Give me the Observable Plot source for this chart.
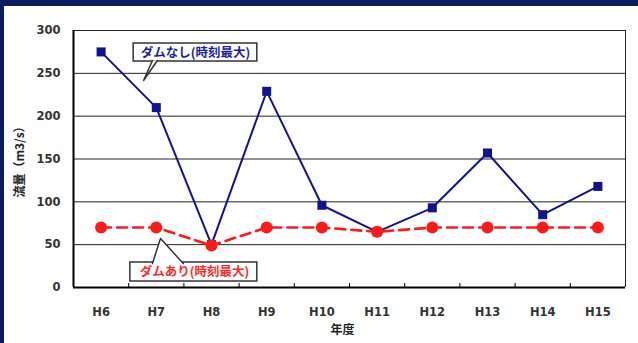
<!DOCTYPE html>
<html><head><meta charset="utf-8">
<script src="https://cdn.jsdelivr.net/npm/d3@7"></script>
<script src="https://cdn.jsdelivr.net/npm/@observablehq/plot@0.6"></script>
<style>
body{margin:0;background:#fff;}
#wrap{position:relative;width:638px;height:343px;overflow:hidden;background:#fff;}
#wrap svg{position:absolute;left:0;top:0;}
.bt{position:absolute;left:0;top:0;width:638px;height:6px;background:#0b1d5e;z-index:2;}
.bl{position:absolute;left:0;top:0;width:4px;height:343px;background:#0b1d5e;z-index:2;}
</style></head><body><div id="wrap"><div class="bt"></div><div class="bl"></div></div>
<script>
const years = ["H6","H7","H8","H9","H10","H11","H12","H13","H14","H15"];
const withoutDam = [275,210,50,229,96,65,93,157,85,118];
const withDam = [70,70,49,70,70,65,70,70,70,70];
const yTicks = [0,50,100,150,200,250,300];
const labelWithout = "ダムなし(時刻最大)";
const labelWith = "ダムあり(時刻最大)";
const yLabel = "流量（m3/s）";
const xLabel = "年度";

const idx = years.map((_, i) => i);
const rowsA = years.map((y, i) => ({i, v: withoutDam[i]}));
const rowsB = years.map((y, i) => ({i, v: withDam[i]}));
const bounds = idx.slice(0, -1).map(i => i + 0.5);

// callout anchors in data units (x = year index, y = flow)
const callouts = [
  {text: labelWithout, color: "#1e1e9a", x1: 0.59, x2: 2.83, y1: 263.8, y2: 284.8, tx: 1.71, ty: 274.3,
   ptr: [{x: 0.93, y: 265}, {x: 0.77, y: 241.6}, {x: 1.02, y: 265}]},
  {text: labelWith, color: "#ff2a2a", x1: 0.53, x2: 2.83, y1: 7.0, y2: 29.2, tx: 1.69, ty: 18.1,
   ptr: [{x: 0.93, y: 28}, {x: 1.076, y: 57.2}, {x: 1.49, y: 28}]}
];

const jp = "'Noto Sans CJK JP', sans-serif";
const marks = [
  Plot.ruleY(yTicks, {stroke: "#222", strokeWidth: 1}),
  Plot.ruleX([9.5], {stroke: "#222", strokeWidth: 1}),
  Plot.ruleX([-0.5], {stroke: "#000", strokeWidth: 2}),
  Plot.ruleY([0], {stroke: "#000", strokeWidth: 2}),
  Plot.ruleX(bounds, {y1: 0, y2: 0, insetTop: -4, stroke: "#000", strokeWidth: 1}),
  Plot.line(rowsA, {x: "i", y: "v", stroke: "#14148a", strokeWidth: 2}),
  Plot.dot(rowsA, {x: "i", y: "v", symbol: "square", r: 5.1, fill: "#14148a"}),
  Plot.line(rowsB, {x: "i", y: "v", stroke: "#ff1a1a", strokeWidth: 2.6, strokeDasharray: "10,6"}),
  Plot.dot(rowsB, {x: "i", y: "v", r: 6, fill: "#ff1a1a"})
];
for (const c of callouts) {
  marks.push(Plot.rect([c], {x1: "x1", x2: "x2", y1: "y1", y2: "y2", fill: "white", stroke: "#333", strokeWidth: 1.5}));
  marks.push(Plot.line(c.ptr, {x: "x", y: "y", fill: "white", stroke: "#333", strokeWidth: 1.5}));
  marks.push(Plot.text([c], {x: "tx", y: "ty", text: "text", fill: c.color, fontSize: 12.5, fontFamily: jp}));
}
marks.push(Plot.text([yLabel], {frameAnchor: "left", dx: -53, rotate: -90, textAnchor: "middle", fontSize: 12, fontFamily: jp, fill: "#222"}));
marks.push(Plot.text([xLabel], {frameAnchor: "bottom", dy: 43, dx: -7, lineAnchor: "middle", fontSize: 12, fontFamily: jp, fill: "#222"}));

const chart = Plot.plot({
  width: 638, height: 343,
  marginLeft: 73, marginRight: 13, marginTop: 30, marginBottom: 56,
  x: {type: "linear", domain: [-0.5, 9.5], ticks: idx, tickFormat: i => years[i], tickSize: 0, tickPadding: 20, label: null},
  y: {domain: [0, 300], ticks: yTicks, tickSize: 0, tickPadding: 13, label: null},
  style: {fontFamily: "'DejaVu Sans', 'Noto Sans CJK JP', sans-serif", fontSize: "11.5px", fontWeight: "bold", color: "#333", background: "transparent"},
  marks
});
document.getElementById("wrap").prepend(chart);
</script>
</body></html>
